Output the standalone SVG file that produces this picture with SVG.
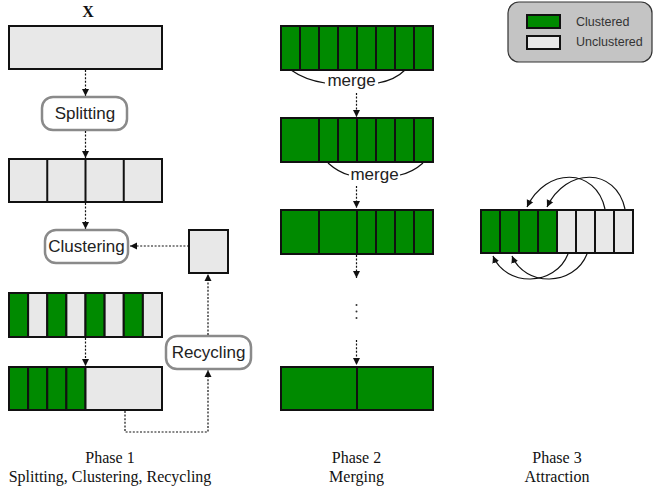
<svg xmlns="http://www.w3.org/2000/svg" width="654" height="491" viewBox="0 0 654 491">
<style>
.g{fill:#008a00;stroke:#111;stroke-width:2}
.u{fill:#e8e8e8;stroke:#111;stroke-width:2}
.dv{stroke:#111;stroke-width:2}
.box{fill:#fff;stroke:#8a8a8a;stroke-width:2.5}
.lbl{font-family:"Liberation Sans",Arial,sans-serif;font-size:17px;fill:#222;text-anchor:middle}
.ph{font-family:"Liberation Serif","Times New Roman",serif;font-size:16px;fill:#111;text-anchor:middle}
.dot{fill:none;stroke:#111;stroke-width:1.2;stroke-dasharray:2,1.6}
.arc{fill:none;stroke:#111;stroke-width:1.2}
.lg{font-family:"Liberation Sans",Arial,sans-serif;font-size:12.5px;fill:#333}
</style>
<defs>
<marker id="ah" markerUnits="userSpaceOnUse" markerWidth="8" markerHeight="8" refX="7" refY="4" orient="auto">
<path d="M0,0.5 L7,4 L0,7.5 Z" fill="#111"/>
</marker>
</defs>

<g id="legend">
<rect x="508" y="2" width="144" height="60" rx="11" fill="#c4c4c4" stroke="#333" stroke-width="1.2"/>
<rect x="527" y="15" width="33" height="13" class="g"/>
<rect x="527" y="36" width="33" height="13" class="u"/>
<text x="576" y="26" class="lg">Clustered</text>
<text x="576" y="46" class="lg">Unclustered</text>
</g>

<g id="p1-x">
<text x="88" y="17" font-family="Liberation Serif,serif" font-weight="bold" font-size="16" text-anchor="middle" fill="#111">X</text>
<rect x="9" y="26" width="153" height="43" class="u"/>
</g>
<g id="splitting">
<rect x="42" y="97" width="85" height="33" rx="11" class="box"/>
<text x="85" y="119" class="lbl">Splitting</text>
</g>
<g id="p1-split">
<rect x="9" y="159" width="153" height="43" class="u"/>
<path d="M47.25,159V202M85.5,159V202M123.75,159V202" class="dv"/>
</g>
<g id="clustering">
<rect x="45" y="230" width="83" height="33" rx="11" class="box"/>
<text x="86.5" y="252" class="lbl">Clustering</text>
</g>
<g id="p1-square">
<rect x="189" y="230" width="39" height="43" class="u"/>
</g>
<g id="p1-clustered">
<rect x="9" y="293" width="19.125" height="44" class="g"/>
<rect x="28.125" y="293" width="19.125" height="44" class="u"/>
<rect x="47.25" y="293" width="19.125" height="44" class="g"/>
<rect x="66.375" y="293" width="19.125" height="44" class="u"/>
<rect x="85.5" y="293" width="19.125" height="44" class="g"/>
<rect x="104.625" y="293" width="19.125" height="44" class="u"/>
<rect x="123.75" y="293" width="19.125" height="44" class="g"/>
<rect x="142.875" y="293" width="19.125" height="44" class="u"/>
</g>
<g id="p1-sorted">
<rect x="9" y="367" width="19.125" height="43" class="g"/>
<rect x="28.125" y="367" width="19.125" height="43" class="g"/>
<rect x="47.25" y="367" width="19.125" height="43" class="g"/>
<rect x="66.375" y="367" width="19.125" height="43" class="g"/>
<rect x="85.5" y="367" width="76.5" height="43" class="u"/>
</g>
<g id="recycling">
<rect x="166" y="336" width="85" height="33" rx="11" class="box"/>
<text x="208.5" y="358" class="lbl">Recycling</text>
</g>

<g id="p2-r1">
<rect x="281" y="26" width="152" height="44" class="g"/>
<path d="M300,26V70M319,26V70M338,26V70M357,26V70M376,26V70M395,26V70M414,26V70" class="dv"/>
</g>
<g id="p2-r2">
<rect x="281" y="118" width="152" height="44" class="g"/>
<path d="M319,118V162M338,118V162M357,118V162M376,118V162M395,118V162M414,118V162" class="dv"/>
</g>
<g id="p2-r3">
<rect x="281" y="210" width="152" height="44" class="g"/>
<path d="M319,210V254M357,210V254M376,210V254M395,210V254M414,210V254" class="dv"/>
</g>
<g id="p2-r4">
<rect x="281" y="367" width="152" height="43" class="g"/>
<path d="M357,367V410" class="dv"/>
</g>
<g id="p2-merge1">
<path d="M291,70 Q305,80 325,83 M378,83 Q395,80 405,70" class="arc"/>
<text x="351.5" y="86" class="lbl">merge</text>
</g>
<g id="p2-merge2">
<path d="M328,163 Q338,172 349,175 M400,175 Q413,172 423,163" class="arc"/>
<text x="374.5" y="180" class="lbl">merge</text>
</g>
<g id="p2-dots" fill="#333">
<circle cx="356.5" cy="305" r="1"/>
<circle cx="356.5" cy="311.5" r="1"/>
<circle cx="356.5" cy="318" r="1"/>
</g>

<g id="p3">
<rect x="481" y="210" width="19" height="43" class="g"/>
<rect x="500" y="210" width="19" height="43" class="g"/>
<rect x="519" y="210" width="19" height="43" class="g"/>
<rect x="538" y="210" width="19" height="43" class="g"/>
<rect x="557" y="210" width="19" height="43" class="u"/>
<rect x="576" y="210" width="19" height="43" class="u"/>
<rect x="595" y="210" width="19" height="43" class="u"/>
<rect x="614" y="210" width="19" height="43" class="u"/>
</g>

<g id="connectors">
<path d="M85.5,70V96" class="dot" marker-end="url(#ah)"/>
<path d="M85.5,131V158" class="dot" marker-end="url(#ah)"/>
<path d="M85.5,203V229" class="dot" marker-end="url(#ah)"/>
<path d="M189,246H130" class="dot" marker-end="url(#ah)"/>
<path d="M85.5,338V366" class="dot" marker-end="url(#ah)"/>
<path d="M125,411V432H208V370" class="dot" marker-end="url(#ah)"/>
<path d="M208,335V274" class="dot" marker-end="url(#ah)"/>
<path d="M356.5,93V117" class="dot" marker-end="url(#ah)"/>
<path d="M356.5,186V208" class="dot" marker-end="url(#ah)"/>
<path d="M356.5,255V278" class="dot" marker-end="url(#ah)"/>
<path d="M356.5,340V365" class="dot" marker-end="url(#ah)"/>
<path d="M605,209 C596,167 546,167 527,207" class="arc" marker-end="url(#ah)"/>
<path d="M625,209 C616,167 566,167 547,207" class="arc" marker-end="url(#ah)"/>
<path d="M568,254 C555,287 506,287 493,256" class="arc" marker-end="url(#ah)"/>
<path d="M587,254 C574,287 525,287 512,256" class="arc" marker-end="url(#ah)"/>
</g>

<g id="captions">
<text x="110" y="463" class="ph">Phase 1</text>
<text x="110" y="482" class="ph">Splitting, Clustering, Recycling</text>
<text x="356.5" y="463" class="ph">Phase 2</text>
<text x="356.5" y="482" class="ph">Merging</text>
<text x="557" y="463" class="ph">Phase 3</text>
<text x="557" y="482" class="ph">Attraction</text>
</g>
</svg>
